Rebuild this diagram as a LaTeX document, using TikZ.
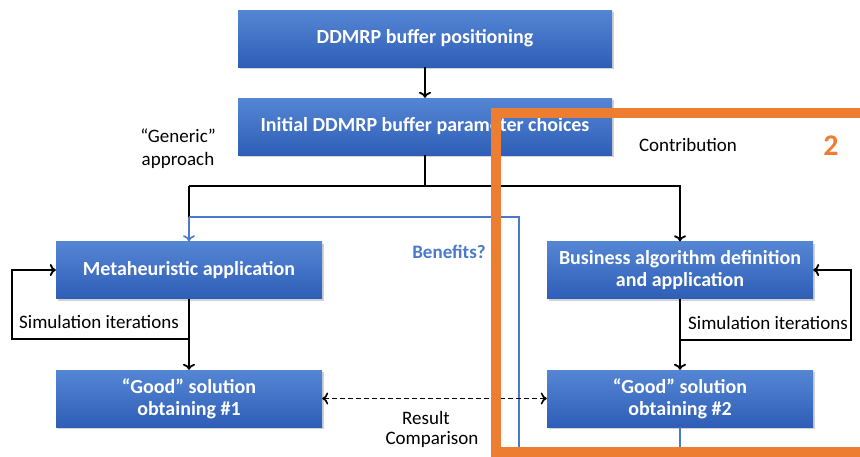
\documentclass[tikz,border=0pt]{standalone}
\usepackage{fontspec}
\setmainfont{Carlito}
\usetikzlibrary{arrows.meta,shadows,positioning}
\definecolor{boxtop}{HTML}{5586D4}
\definecolor{boxbot}{HTML}{2E5EB6}
\definecolor{orng}{HTML}{ED7D31}
\definecolor{bline}{HTML}{4A7ACB}
\tikzset{
  box/.style={rectangle, top color=boxtop, bottom color=boxbot, draw=none,
    text=white, font=\fontsize{20}{22}\selectfont\bfseries, align=center,
    minimum width=266pt, minimum height=57pt, inner sep=0pt,
    drop shadow={opacity=0.35, shadow xshift=1.5pt, shadow yshift=-2pt}},
  wide/.style={minimum width=374pt},
  tip/.tip={To[length=6pt,width=12pt]},
  conn/.style={draw=black, line width=1.8pt, -tip},
  bconn/.style={draw=bline, line width=1.6pt},
  lbl/.style={font=\fontsize{19}{23}\selectfont, text=black, align=center, inner sep=0pt},
}
\begin{document}
\begin{tikzpicture}[x=1pt,y=-1pt]
\useasboundingbox (0,0) rectangle (860,456);
\fill[white] (0,0) rectangle (860,456);
% boxes
\node[box,wide] (b1) at (425,38.5) {DDMRP buffer positioning};
\node[box,wide] (b2) at (425,126.5) {Initial DDMRP buffer parameter choices};
\node[box] (meta) at (189,270) {Metaheuristic application};
\node[box] (bus) at (680,270) {Business algorithm definition\\and application};
\node[box] (g1) at (189,398.5) {``Good'' solution\\obtaining \#1};
\node[box] (g2) at (680,398.5) {``Good'' solution\\obtaining \#2};
% coordinates
\coordinate (split) at (425,186);
\coordinate (sl) at (189,186);
\coordinate (sr) at (680,186);
\coordinate (bl) at (189,217);
\coordinate (br) at (519,217);
\coordinate (bb) at (519,456);
\coordinate (g2b) at (680,456);
\coordinate (lloop1) at (189,339);
\coordinate (lloop2) at (12,339);
\coordinate (lloop3) at (12,270);
\coordinate (rloop1) at (680,340);
\coordinate (rloop2) at (851,340);
\coordinate (rloop3) at (851,270);
% connectors
\draw[conn] (b1) -- (b2);
\draw[line width=1.8pt] (b2.south) -- (split);
\draw[conn] (sl) -- (sr) -- (bus.north);
\draw[line width=1.8pt] (sl) -- (meta.north);
\draw[bconn] (bb) -- (br) -- (bl);
\draw[bconn, -tip] (bl) -- (meta.north);
\draw[bconn] (g2.south) -- (g2b);
\draw[conn] (meta.south) -- (g1.north);
\draw[conn] (lloop1) -- (lloop2) -- (lloop3) -- (meta.west);
\draw[conn] (bus.south) -- (g2.north);
\draw[conn] (rloop1) -- (rloop2) -- (rloop3) -- (bus.east);
\draw[conn, line width=1.6pt, dash pattern=on 5pt off 3pt, tip-tip] (g1.east) -- (g2.west);
% labels
\node[lbl] (gen) at (178,149) {``Generic''\\approach};
\node[lbl] (contrib) at (688,145) {Contribution};
\node[lbl, font=\fontsize{19}{23}\selectfont\bfseries, text=bline] (ben) at (449,252) {Benefits?};
\node[lbl] (sim1) at (99,322) {Simulation iterations};
\node[lbl] (sim2) at (768,323) {Simulation iterations};
\node[lbl] (res) at (426,418) {Result};
\node[lbl] (cmp) at (432,439) {Comparison};
% orange contribution frame
\draw[orng, line width=10pt] (870,113) -- (496,113) -- (496,452) -- (870,452);
\node[font=\fontsize{30}{32}\selectfont\bfseries, text=orng, inner sep=0pt] (two) at (831,146) {2};
\end{tikzpicture}
\end{document}
